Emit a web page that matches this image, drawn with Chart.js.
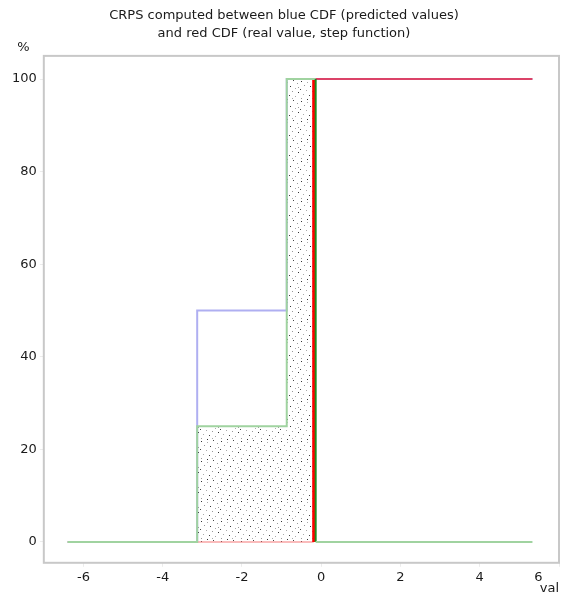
<!DOCTYPE html>
<html lang="en">
<head>
    <meta charset="UTF-8">
    <title>CRPS</title>
    <script src="https://cdn.jsdelivr.net/npm/chart.js"></script>
    <style>
        body {
            margin: 0;
            background: #fff;
        }
        #chart-container {
            width: 573px;
            height: 594px;
        }
    </style>
</head>
<body>
    <div id="chart-container">
        <canvas id="crpsChart"></canvas>
    </div>
    <script>
        // CDF breakpoints: each level holds from its x up to the next x
        const predX = [-6.4, -3.13, -0.87, 5.33];
        const predY = [0, 50, 100, 100];
        const realX = [-6.4, -0.19, 5.33];
        const realY = [0, 100, 100];
        // squared difference (F - H)^2, the area that is integrated
        const diffX = [-6.4, -3.13, -0.87, -0.14, 5.33];
        const diffY = [0, 25, 100, 0, 0];

        const xTicks = [-6, -4, -2, 0, 2, 4, 6];
        const yTicks = [0, 20, 40, 60, 80, 100];

        const FONT = 'DejaVu Sans';

        // turn breakpoints into corner points so vertical steps are their own segments
        function steps(xs, ys) {
            const pts = [];
            for (let i = 0; i < xs.length; i++) {
                if (i > 0 && ys[i] !== ys[i - 1]) pts.push({x: xs[i], y: ys[i - 1]});
                pts.push({x: xs[i], y: ys[i]});
            }
            return pts;
        }
        const isVertical = ctx => ctx.p0.parsed.x === ctx.p1.parsed.x;

        // stippled fill for the CRPS area
        function dotPattern() {
            const c = document.createElement('canvas');
            c.width = 20;
            c.height = 20;
            const g = c.getContext('2d');
            const dots = [
                [1, 1, '#333'], [7, 2, '#aaa'], [13, 0, '#444'], [17, 3, '#999'],
                [4, 5, '#999'], [10, 6, '#333'], [15, 8, '#aaa'], [0, 9, '#444'],
                [6, 10, '#aaa'], [12, 11, '#999'], [18, 12, '#333'], [3, 14, '#aaa'],
                [9, 15, '#444'], [15, 16, '#aaa'], [1, 18, '#999'], [7, 19, '#333'],
                [12, 18, '#aaa'], [18, 7, '#999']
            ];
            dots.forEach(([x, y, col]) => { g.fillStyle = col; g.fillRect(x, y, 1, 1); });
            return g.createPattern(c, 'repeat');
        }

        const frame = {
            id: 'frame',
            afterDraw(chart) {
                const {ctx, chartArea: a} = chart;
                ctx.save();
                ctx.strokeStyle = '#c8c8c8';
                ctx.lineWidth = 2;
                ctx.strokeRect(a.left, a.top, a.right - a.left, a.bottom - a.top);
                ctx.restore();
            }
        };

        const ctx = document.getElementById('crpsChart').getContext('2d');
        new Chart(ctx, {
            type: 'line',
            data: {
                datasets: [{
                    label: 'squared difference',
                    data: steps(diffX, diffY),
                    fill: 'origin',
                    backgroundColor: dotPattern(),
                    borderColor: 'rgb(160, 211, 160)',
                    borderWidth: 2,
                    segment: {
                        borderColor: c => isVertical(c) && c.p1.parsed.y < c.p0.parsed.y ? '#1e8a1e' : undefined
                    }
                }, {
                    label: 'real value',
                    data: steps(realX, realY),
                    fill: false,
                    borderColor: 'rgba(230, 40, 70, 0.8)',
                    borderWidth: 2,
                    segment: {
                        borderColor: c => isVertical(c) ? '#ff0000' : (c.p0.parsed.y === 0 ? 'rgba(245, 120, 120, 0.5)' : undefined),
                        borderWidth: c => isVertical(c) ? 3 : undefined
                    }
                }, {
                    label: 'predicted values',
                    data: steps(predX, predY),
                    fill: false,
                    borderColor: 'rgba(110, 110, 230, 0.55)',
                    borderWidth: 2
                }]
            },
            options: {
                responsive: true,
                maintainAspectRatio: false,
                animation: false,
                events: [],
                layout: {
                    padding: {left: 9, right: 14, top: 0, bottom: 0}
                },
                elements: {
                    point: {radius: 0},
                    line: {tension: 0, borderJoinStyle: 'miter', borderCapStyle: 'butt'}
                },
                scales: {
                    x: {
                        type: 'linear',
                        min: -7,
                        max: 6,
                        afterBuildTicks: s => { s.ticks = xTicks.map(v => ({value: v})); },
                        afterFit: s => { s.paddingRight = 0; },
                        border: {display: false},
                        grid: {drawOnChartArea: false, drawTicks: true, tickLength: 4, color: '#ececec'},
                        ticks: {
                            padding: 3,
                            maxRotation: 0,
                            autoSkip: false,
                            color: '#1a1a1a',
                            font: {family: FONT, size: 13},
                            // the last label sits left of its tick to leave room for the axis name
                            callback: v => v === xTicks[xTicks.length - 1] ? String(v) + ' '.repeat(10) : String(v)
                        },
                        title: {
                            display: true,
                            text: 'val',
                            align: 'end',
                            color: '#1a1a1a',
                            font: {family: FONT, size: 13},
                            padding: {top: -8, bottom: -2}
                        }
                    },
                    y: {
                        min: -4.5,
                        max: 105,
                        afterBuildTicks: s => { s.ticks = yTicks.map(v => ({value: v})); },
                        border: {display: false},
                        grid: {drawOnChartArea: false, drawTicks: true, tickLength: 4, color: '#ececec'},
                        ticks: {
                            padding: 3,
                            color: '#1a1a1a',
                            font: {family: FONT, size: 13}
                        }
                    }
                },
                plugins: {
                    legend: {display: false},
                    tooltip: {enabled: false},
                    filler: {drawTime: 'beforeDatasetsDraw'},
                    title: {
                        display: true,
                        text: ['CRPS computed between blue CDF (predicted values)', 'and red CDF (real value, step function)'],
                        color: '#1a1a1a',
                        font: {family: FONT, size: 13, weight: 'normal', lineHeight: 1.38},
                        padding: {top: 7, bottom: 0}
                    },
                    subtitle: {
                        display: true,
                        text: '  %',
                        align: 'start',
                        color: '#1a1a1a',
                        font: {family: FONT, size: 13, lineHeight: 1},
                        padding: {top: -2, bottom: 2}
                    }
                }
            },
            plugins: [frame]
        });
    </script>
</body>
</html>
